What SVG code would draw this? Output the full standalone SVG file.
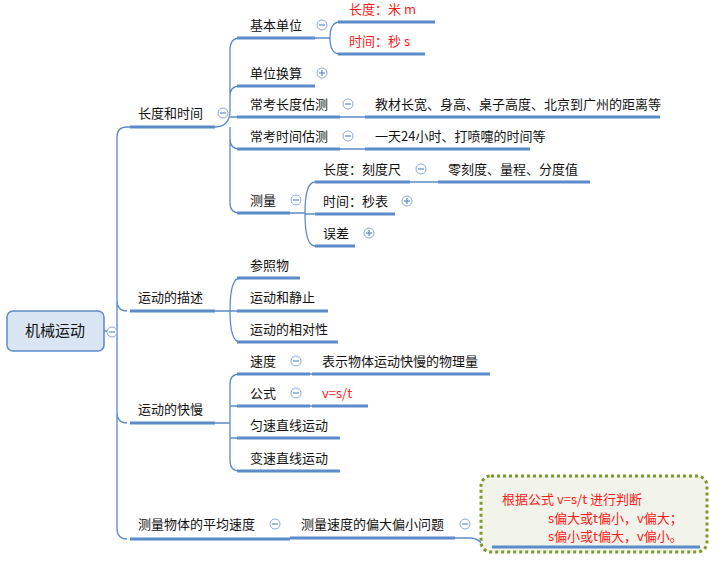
<svg xmlns="http://www.w3.org/2000/svg" width="722" height="565" viewBox="0 0 722 565">
<style>
text{font-family:"Microsoft YaHei","Noto Sans CJK SC",sans-serif;font-size:13px;fill:#111}
.r{fill:#ff1a1a}
.u{stroke:#5b8bc9;stroke-width:3;fill:none}
.c{stroke:#5b8bc9;stroke-width:1.3;fill:none}
.b{fill:#fff;stroke:#8aa8d4;stroke-width:1}
.s{stroke:#5b8bc9;stroke-width:1.2}
</style>
<rect width="722" height="565" fill="#fff"/>
<g id="connectors">
<path class="c" d="M104,331 H117 M117,331 V137 Q117,127 127,127 H130 M117,331 V300 Q117,311 127,311 M117,331 V412 Q117,423 127,423 M117,331 V528 Q117,539 127,539"/>
<path class="c" d="M215,127 Q230,127 230,110 V50 Q230,38 240,38 M230,110 V96 Q230,86 240,86 M230,117 H240 M230,127 V139 Q230,149 240,149 M230,127 V203 Q230,213 240,213"/>
<path class="c" d="M315,38 H330 Q330,22 340,22 M330,38 Q330,54 340,54"/>
<path class="c" d="M340,117 H365 M340,149 H365 M290,213 H305 Q305,182 315,182 M305,213 V214 H315 M305,213 Q305,246 315,246 M410,182 H438"/>
<path class="c" d="M215,311 H230 Q230,278 240,278 M230,311 H240 M230,311 Q230,342 240,342"/>
<path class="c" d="M215,423 H230 V384 Q230,374 240,374 M230,406 H240 M230,423 V438 H240 M230,423 V461 Q230,471 240,471 M310,374 H312 M310,406 H312"/>
<path class="c" d="M455,538 H470 Q478,538 482,544 Q486,547 492,547"/>
</g>
<g id="root"><rect x="7" y="311" width="97" height="40" rx="6" fill="#dae5f3" stroke="#5b8bc9" stroke-width="1.5"/><text x="55" y="336" text-anchor="middle" style="font-size:15px">机械运动</text><circle class="b" cx="112" cy="332" r="5"/><line class="s" x1="109" y1="332" x2="115" y2="332"/></g>
<g id="n1"><text x="138" y="118">长度和时间</text><path class="u" d="M130,127 H215"/><circle class="b" cx="223" cy="113" r="5"/><line class="s" x1="220" y1="113" x2="226" y2="113"/></g>
<g id="n11"><text x="250" y="30">基本单位</text><path class="u" d="M237,38 H315"/><circle class="b" cx="322" cy="25" r="5"/><line class="s" x1="319" y1="25" x2="325" y2="25"/></g>
<g id="n111"><text class="r" x="349" y="14">长度：米  m</text><path class="u" d="M338,22 H435"/></g>
<g id="n112"><text class="r" x="349" y="46">时间：秒 s</text><path class="u" d="M338,54 H425"/></g>
<g id="n12"><text x="250" y="78">单位换算</text><path class="u" d="M237,86 H315"/><circle class="b" cx="322" cy="73" r="5"/><line class="s" x1="319" y1="73" x2="325" y2="73"/><line class="s" x1="322" y1="70" x2="322" y2="76"/></g>
<g id="n13"><text x="250" y="109">常考长度估测</text><path class="u" d="M237,117 H340"/><circle class="b" cx="348" cy="104" r="5"/><line class="s" x1="345" y1="104" x2="351" y2="104"/></g>
<g id="n131"><text x="375" y="109">教材长宽、身高、桌子高度、北京到广州的距离等</text><path class="u" d="M365,117 H660"/></g>
<g id="n14"><text x="250" y="141">常考时间估测</text><path class="u" d="M237,149 H340"/><circle class="b" cx="348" cy="136" r="5"/><line class="s" x1="345" y1="136" x2="351" y2="136"/></g>
<g id="n141"><text x="375" y="141">一天24小时、打喷嚏的时间等</text><path class="u" d="M365,149 H530"/></g>
<g id="n15"><text x="250" y="205">测量</text><path class="u" d="M237,213 H290"/><circle class="b" cx="296" cy="200" r="5"/><line class="s" x1="293" y1="200" x2="299" y2="200"/></g>
<g id="n151"><text x="323" y="174">长度：刻度尺</text><path class="u" d="M315,182 H410"/><circle class="b" cx="421" cy="169" r="5"/><line class="s" x1="418" y1="169" x2="424" y2="169"/></g>
<g id="n1511"><text x="448" y="174">零刻度、量程、分度值</text><path class="u" d="M438,182 H590"/></g>
<g id="n152"><text x="323" y="206">时间：秒表</text><path class="u" d="M315,214 H395"/><circle class="b" cx="407" cy="201" r="5"/><line class="s" x1="404" y1="201" x2="410" y2="201"/><line class="s" x1="407" y1="198" x2="407" y2="204"/></g>
<g id="n153"><text x="323" y="238">误差</text><path class="u" d="M315,246 H355"/><circle class="b" cx="369" cy="233" r="5"/><line class="s" x1="366" y1="233" x2="372" y2="233"/><line class="s" x1="369" y1="230" x2="369" y2="236"/></g>
<g id="n2"><text x="138" y="302">运动的描述</text><path class="u" d="M130,311 H215"/></g>
<g id="n21"><text x="250" y="270">参照物</text><path class="u" d="M237,278 H300"/></g>
<g id="n22"><text x="250" y="302">运动和静止</text><path class="u" d="M237,311 H328"/></g>
<g id="n23"><text x="250" y="334">运动的相对性</text><path class="u" d="M237,342 H338"/></g>
<g id="n3"><text x="138" y="414">运动的快慢</text><path class="u" d="M130,423 H215"/></g>
<g id="n31"><text x="250" y="366">速度</text><path class="u" d="M237,374 H310"/><circle class="b" cx="296" cy="361" r="5"/><line class="s" x1="293" y1="361" x2="299" y2="361"/></g>
<g id="n311"><text x="322" y="366">表示物体运动快慢的物理量</text><path class="u" d="M312,374 H490"/></g>
<g id="n32"><text x="250" y="398">公式</text><path class="u" d="M237,406 H310"/><circle class="b" cx="296" cy="393" r="5"/><line class="s" x1="293" y1="393" x2="299" y2="393"/></g>
<g id="n321"><text class="r" x="322" y="398">v=s/t</text><path class="u" d="M312,406 H368"/></g>
<g id="n33"><text x="250" y="430">匀速直线运动</text><path class="u" d="M237,438 H340"/></g>
<g id="n34"><text x="250" y="463">变速直线运动</text><path class="u" d="M237,471 H340"/></g>
<g id="n4"><text x="138" y="529">测量物体的平均速度</text><path class="u" d="M130,539 H290"/><circle class="b" cx="275" cy="524" r="5"/><line class="s" x1="272" y1="524" x2="278" y2="524"/></g>
<g id="n41"><text x="301" y="529">测量速度的偏大偏小问题</text><path class="u" d="M290,538 H455"/><circle class="b" cx="465" cy="524" r="5"/><line class="s" x1="462" y1="524" x2="468" y2="524"/></g>
<g id="n411"><rect x="481" y="476" width="226" height="76" rx="10" fill="#f2f4eb" stroke="#7a9a2a" stroke-width="3" stroke-dasharray="3,3"/><text class="r" x="502" y="504">根据公式 v=s/t 进行判断</text><text class="r" x="548" y="523">s偏大或t偏小，v偏大；</text><text class="r" x="548" y="541">s偏小或t偏大，v偏小。</text><path class="u" d="M492,547 H700"/></g>
</svg>
